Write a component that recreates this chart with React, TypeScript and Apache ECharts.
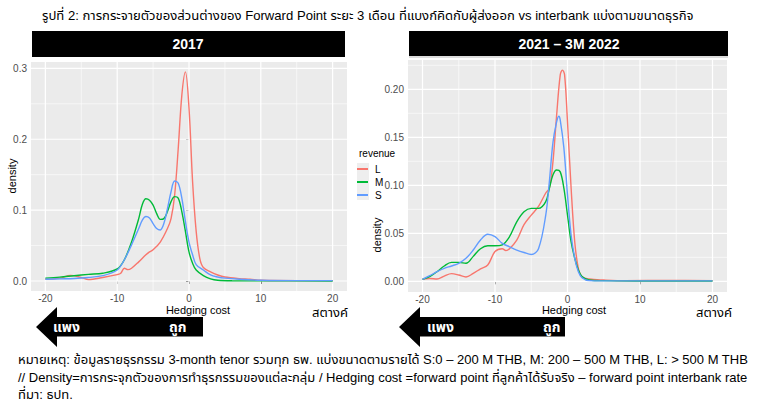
import React, { useEffect, useRef } from "react";
import * as echarts from "echarts";

const TITLE = "รูปที่ 2: การกระจายตัวของส่วนต่างของ Forward Point ระยะ 3 เดือน ที่แบงก์คิดกับผู้ส่งออก vs interbank แบ่งตามขนาดธุรกิจ";
const PANEL_TITLES = ["2017", "2021 – 3M 2022"];
const NOTES = [
  "หมายเหตุ: ข้อมูลรายธุรกรรม 3-month tenor รวมทุก ธพ. แบ่งขนาดตามรายได้ S:0 – 200 M THB, M: 200 – 500 M THB, L: > 500 M THB",
  "// Density=การกระจุกตัวของการทำธุรกรรมของแต่ละกลุ่ม / Hedging cost =forward point ที่ลูกค้าได้รับจริง – forward point interbank rate",
  "ที่มา: ธปท.",
];
const SERIES_NAMES = ["L", "M", "S"];
const COLORS = ["#F8766D", "#00BA38", "#619CFF"];

const X_TICKS = [-20, -10, 0, 10, 20];
const X_MINOR = [-15, -5, 5, 15];
const Y_TICKS_2017 = [0, 0.1, 0.2, 0.3];
const Y_MINOR_2017 = [0.05, 0.15, 0.25];
const Y_TICKS_2022 = [0, 0.05, 0.1, 0.15, 0.2];
const Y_MINOR_2022 = [0.025, 0.075, 0.125, 0.175, 0.225];

const L2017: [number, number][] = [[-20,0.0024],[-18,0.004],[-16.5,0.008],[-15,0.005],[-14,0.002],[-12,0.005],[-10,0.009],[-9.5,0.011],[-9,0.018],[-8.5,0.016],[-8,0.018],[-7,0.027],[-6,0.037],[-5.5,0.041],[-5,0.044],[-4,0.055],[-3,0.074],[-2.5,0.088],[-2,0.121],[-1.5,0.187],[-1,0.262],[-0.5,0.295],[0,0.244],[0.5,0.14],[1,0.07],[1.5,0.032],[2,0.019],[3,0.013],[4,0.0085],[5,0.0056],[7,0.0033],[8.5,0.0024],[10,0.001],[15,0.0005],[20,0.0005]];
const M2017: [number, number][] = [[-20,0.004],[-18,0.0055],[-16,0.0075],[-14,0.0094],[-12,0.011],[-10,0.017],[-9,0.03],[-8,0.055],[-7,0.088],[-6.5,0.108],[-6,0.116],[-5.5,0.114],[-5,0.107],[-4.5,0.095],[-4,0.087],[-3.5,0.088],[-3,0.098],[-2.5,0.112],[-2,0.119],[-1.5,0.117],[-1,0.098],[-0.5,0.07],[0,0.041],[0.5,0.025],[1,0.0155],[2,0.0075],[3,0.003],[4,0.001],[6,0.0003],[10,0.0002],[20,0.0001]];
const S2017: [number, number][] = [[-20,0.0024],[-18,0.003],[-16,0.0035],[-14,0.005],[-12,0.0075],[-10,0.0155],[-9,0.03],[-8,0.051],[-7,0.074],[-6.5,0.086],[-6,0.091],[-5.5,0.089],[-5,0.081],[-4.5,0.074],[-4,0.072],[-3.5,0.081],[-3,0.102],[-2.5,0.126],[-2,0.141],[-1.5,0.138],[-1,0.117],[-0.5,0.084],[0,0.055],[0.5,0.037],[1,0.023],[2,0.0155],[3,0.0085],[4,0.0056],[5,0.004],[7,0.0024],[10,0.001],[15,0.0005],[20,0.0005]];

const L2022: [number, number][] = [[-20,0.0024],[-19,0.003],[-18,0.0024],[-17,0.0055],[-16,0.008],[-15,0.0066],[-14,0.0045],[-13,0.0083],[-12,0.013],[-11,0.017],[-10,0.031],[-9,0.034],[-8.5,0.032],[-8,0.034],[-7,0.043],[-6,0.059],[-5,0.069],[-4,0.078],[-3,0.092],[-2.5,0.097],[-2,0.125],[-1.5,0.173],[-1,0.215],[-0.7,0.22],[-0.4,0.215],[0,0.166],[0.5,0.097],[1,0.041],[1.5,0.0135],[2,0.0049],[3,0.0024],[5,0.0014],[8,0.0007],[14,0.001],[20,0.0007]];
const M2022: [number, number][] = [[-20,0.002],[-19,0.0049],[-18,0.01],[-17,0.016],[-16,0.0198],[-15,0.0198],[-14,0.0188],[-13,0.026],[-12,0.034],[-11,0.037],[-10,0.037],[-9,0.038],[-8,0.0465],[-7,0.062],[-6,0.0725],[-5,0.076],[-4,0.076],[-3,0.083],[-2.5,0.097],[-2,0.111],[-1.5,0.116],[-1,0.114],[-0.5,0.097],[0,0.069],[0.5,0.041],[1,0.024],[1.5,0.0118],[2,0.0049],[3,0.0014],[5,0.0007],[10,0.0004],[20,0.0003]];
const S2022: [number, number][] = [[-20,0.002],[-19,0.0059],[-18,0.01],[-17,0.0135],[-16,0.016],[-15,0.0188],[-14,0.024],[-13,0.0326],[-12,0.043],[-11,0.049],[-10,0.0465],[-9,0.0396],[-8,0.036],[-7,0.0326],[-6,0.03],[-5,0.028],[-4,0.034],[-3,0.069],[-2.5,0.104],[-2,0.145],[-1.5,0.166],[-1.2,0.172],[-1,0.168],[-0.5,0.139],[0,0.09],[0.5,0.048],[1,0.024],[1.5,0.01],[2,0.0038],[3,0.0007],[5,0.0005],[20,0.0005]];

const FONT = '"Liberation Sans", "Noto Sans", "Noto Sans Thai", Arial, sans-serif';

// kind 0 = vertical line at x value, kind 1 = horizontal line at y value; third = line width
function gridLineData(xMajor: number[], xMinor: number[], yMajor: number[], yMinor: number[]) {
  return [
    ...xMinor.map((v) => [0, v, 0.6]),
    ...yMinor.map((v) => [1, v, 0.6]),
    ...xMajor.map((v) => [0, v, 1.2]),
    ...yMajor.map((v) => [1, v, 1.2]),
  ];
}

export default function App() {
  const ref = useRef<HTMLDivElement>(null);
  useEffect(() => {
    if (!ref.current) return;
    const chart = echarts.init(ref.current, null, { renderer: "svg" });
    const panels = [
      { data: [L2017, M2017, S2017], yTicks: Y_TICKS_2017, yMinor: Y_MINOR_2017, ymin: -0.0141, ymax: 0.309, dec: 1 },
      { data: [L2022, M2022, S2022], yTicks: Y_TICKS_2022, yMinor: Y_MINOR_2022, ymin: -0.0111, ymax: 0.2305, dec: 2 },
    ];
    const xAxes = panels.map((_, i) => ({
      type: "value",
      gridIndex: i,
      min: -22,
      max: 22,
      splitLine: { show: false },
      axisLine: { show: false },
      axisTick: { show: true, customValues: X_TICKS, length: 3, lineStyle: { color: "#333", width: 1 } },
      axisLabel: { customValues: X_TICKS, color: "#4D4D4D", fontSize: 10, margin: 2, fontFamily: FONT },
    }));
    const yAxes = panels.map((p, i) => ({
      type: "value",
      gridIndex: i,
      min: p.ymin,
      max: p.ymax,
      splitLine: { show: false },
      axisLine: { show: false },
      axisTick: { show: true, customValues: p.yTicks, length: 3, lineStyle: { color: "#333", width: 1 } },
      axisLabel: {
        customValues: p.yTicks,
        color: "#4D4D4D",
        fontSize: 10,
        margin: 4,
        fontFamily: FONT,
        formatter: (v: number) => v.toFixed(p.dec),
      },
    }));
    const series: any[] = [];
    panels.forEach((p, i) => {
      series.push({
        type: "custom",
        name: "grid" + i,
        xAxisIndex: i,
        yAxisIndex: i,
        silent: true,
        z: 1,
        encode: { x: -1, y: -1 },
        data: gridLineData(X_TICKS, X_MINOR, p.yTicks, p.yMinor),
        renderItem: (params: any, api: any) => {
          const kind = api.value(0);
          const v = api.value(1);
          const w = api.value(2);
          const cs = params.coordSys;
          let shape;
          if (kind === 0) {
            const pt = api.coord([v, 0]);
            shape = { x1: pt[0], y1: cs.y, x2: pt[0], y2: cs.y + cs.height };
          } else {
            const pt = api.coord([0, v]);
            shape = { x1: cs.x, y1: pt[1], x2: cs.x + cs.width, y2: pt[1] };
          }
          return { type: "line", shape, style: { stroke: "#FFFFFF", lineWidth: w } };
        },
      });
      p.data.forEach((d, k) => {
        series.push({
          type: "line",
          name: SERIES_NAMES[k],
          xAxisIndex: i,
          yAxisIndex: i,
          data: d,
          showSymbol: false,
          smooth: 0.35,
          z: 3,
          color: COLORS[k],
          lineStyle: { width: 1.4, color: COLORS[k] },
        });
      });
    });

    const text = (x: number, y: number, t: string, extra: any = {}) => ({
      type: "text",
      x,
      y,
      style: { text: t, fill: "#000", fontSize: 11, fontFamily: FONT, textAlign: "left", textVerticalAlign: "middle", ...extra },
      silent: true,
    });
    const arrow = (x0: number, x1: number, xEnd: number) => ({
      type: "polygon",
      shape: { points: [[x0, 327], [x1, 307], [x1, 317], [xEnd, 317], [xEnd, 336.5], [x1, 336.5], [x1, 347]] },
      style: { fill: "#000" },
      silent: true,
    });

    chart.setOption({
      animation: false,
      backgroundColor: "#FFFFFF",
      grid: [
        { left: 31, top: 62, width: 316, height: 229, show: true, backgroundColor: "#EBEBEB", borderWidth: 0 },
        { left: 408, top: 60, width: 319, height: 232, show: true, backgroundColor: "#EBEBEB", borderWidth: 0 },
      ],
      xAxis: xAxes,
      yAxis: yAxes,
      legend: {
        data: SERIES_NAMES,
        orient: "vertical",
        left: 357,
        top: 163,
        padding: 0,
        itemWidth: 11,
        itemHeight: 2,
        itemGap: 1,
        icon: "rect",
        selectedMode: false,
        textStyle: { fontSize: 10, color: "#000", fontFamily: FONT, lineHeight: 12, padding: [0, 0, 0, 2] },
      },
      series,
      graphic: [
        text(42, 15, TITLE, { fontSize: 13.1 }),
        { type: "rect", shape: { x: 32, y: 31, width: 313, height: 26 }, style: { fill: "#000" }, silent: true },
        { type: "rect", shape: { x: 409, y: 31, width: 319, height: 25 }, style: { fill: "#000" }, silent: true },
        { type: "line", shape: { x1: 409, y1: 57, x2: 728, y2: 57 }, style: { stroke: "#BBBBBB", lineWidth: 1 }, silent: true },
        text(188, 44, PANEL_TITLES[0], { fill: "#fff", fontSize: 14, fontWeight: "bold", textAlign: "center" }),
        text(569, 44, PANEL_TITLES[1], { fill: "#fff", fontSize: 14, fontWeight: "bold", textAlign: "center" }),
        { type: "text", x: 12, y: 176, rotation: Math.PI / 2, style: { text: "density", fill: "#000", fontSize: 11, fontFamily: FONT, textAlign: "center", textVerticalAlign: "middle" }, silent: true },
        { type: "text", x: 377, y: 235, rotation: Math.PI / 2, style: { text: "density", fill: "#000", fontSize: 11, fontFamily: FONT, textAlign: "center", textVerticalAlign: "middle" }, silent: true },
        text(198, 310, "Hedging cost", { textAlign: "center" }),
        text(574, 310, "Hedging cost", { textAlign: "center" }),
        text(348, 312, "สตางค์", { textAlign: "right", fontSize: 13 }),
        text(732, 312, "สตางค์", { textAlign: "right", fontSize: 13 }),
        { type: "rect", shape: { x: 357, y: 163, width: 12, height: 37 }, style: { fill: "#EEEEEE" }, silent: true, z: -1 },
        text(359, 153, "revenue", { fontSize: 10 }),
        arrow(36, 57, 203),
        arrow(399, 420, 565),
        text(53, 327, "แพง", { fill: "#fff", fontSize: 14, fontWeight: "bold" }),
        text(169, 327, "ถูก", { fill: "#fff", fontSize: 14, fontWeight: "bold" }),
        text(427, 327, "แพง", { fill: "#fff", fontSize: 14, fontWeight: "bold" }),
        text(543, 327, "ถูก", { fill: "#fff", fontSize: 14, fontWeight: "bold" }),
        text(18, 359, NOTES[0], { fontSize: 13 }),
        text(18, 377, NOTES[1], { fontSize: 13 }),
        text(18, 394, NOTES[2], { fontSize: 13 }),
      ],
    });
    return () => chart.dispose();
  }, []);
  return <div ref={ref} style={{ position: "absolute", left: 0, top: 0, width: 757, height: 403 }} />;
}
